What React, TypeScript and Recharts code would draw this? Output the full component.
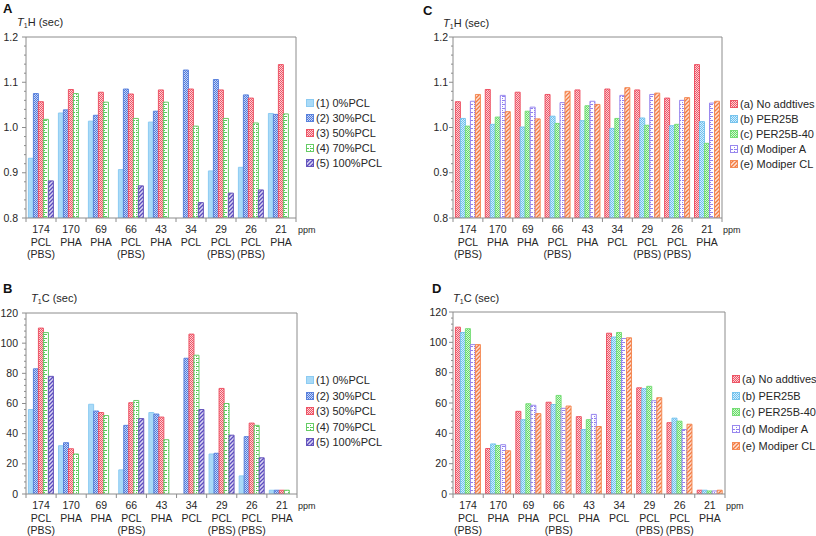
import React from 'react';
import { BarChart, Bar, XAxis, YAxis } from 'recharts';

const FONT = '"Liberation Sans", Arial, sans-serif';
const AXIS_GRAY = '#8c8c8c';
const TEXT = '#262626';

// carbon peaks (ppm) and what they belong to
const peaks = ['174', '170', '69', '66', '43', '34', '29', '26', '21'];
const peakGroups = [
  ['PCL', '(PBS)'], ['PHA'], ['PHA'], ['PCL', '(PBS)'], ['PHA'],
  ['PCL'], ['PCL', '(PBS)'], ['PCL', '(PBS)'], ['PHA'],
];

const blendNames = ['(1) 0%PCL', '(2) 30%PCL', '(3) 50%PCL', '(4) 70%PCL', '(5) 100%PCL'];
const additiveNames = ['(a) No addtives', '(b) PER25B', '(c) PER25B-40', '(d) Modiper A', '(e) Modiper CL'];

// A: T1H by PCL content
const hPcl0 = [0.932, 1.032, 1.014, 0.907, 1.012, null, 0.904, 0.912, 1.031];
const hPcl30 = [1.075, 1.039, 1.027, 1.085, 1.036, 1.127, 1.106, 1.072, 1.029];
const hPcl50 = [1.057, 1.084, 1.078, 1.074, 1.083, 1.085, 1.083, 1.065, 1.139];
const hPcl70 = [1.018, 1.075, 1.056, 1.020, 1.056, 1.003, 1.020, 1.010, 1.030];
const hPcl100 = [0.882, null, null, 0.871, null, 0.834, 0.855, 0.862, null];

// B: T1C by PCL content
const cPcl0 = [56, 32, 59.5, 16, 54, null, 26.5, 12, 2.5];
const cPcl30 = [83, 34, 55, 45.5, 53, 90, 27, 38, 2.5];
const cPcl50 = [110, 30, 54, 60.5, 51, 106, 70, 47, 2.5];
const cPcl70 = [107, 26.5, 52, 62, 36, 92, 60, 45.5, 2.5];
const cPcl100 = [78, null, null, 50, null, 56, 39, 24, null];

// C: T1H by additive
const hNone = [1.057, 1.084, 1.078, 1.073, 1.083, 1.085, 1.083, 1.065, 1.139];
const hPer25b = [1.020, 1.007, 1.001, 1.025, 1.015, 0.998, 1.021, 1.004, 1.013];
const hPer25b40 = [1.003, 1.023, 1.036, 1.009, 1.048, 1.020, 1.005, 1.007, 0.965];
const hModA = [1.058, 1.071, 1.045, 1.055, 1.058, 1.071, 1.073, 1.060, 1.054];
const hModCL = [1.073, 1.035, 1.019, 1.080, 1.051, 1.088, 1.076, 1.066, 1.058];

// D: T1C by additive
const cNone = [110, 30, 54.5, 60.5, 51, 106, 70, 47, 2.5];
const cPer25b = [106.5, 33, 49, 59, 42.5, 103.5, 69.5, 50, 2.5];
const cPer25b40 = [109, 32, 59.5, 65, 49, 106.5, 71, 48, 2];
const cModA = [98.5, 32.5, 58.5, 56.5, 52.5, 102.5, 61.5, 42.5, 2];
const cModCL = [98.5, 28.5, 53, 58, 44.5, 103, 63.5, 46, 2.5];

const toRows = (series: (number | null)[][]) =>
  peaks.map((name, i) => {
    const row: any = { name };
    series.forEach((s, k) => { row['s' + k] = s[i]; });
    return row;
  });

const blendStyles = [
  { fill: '#a9daf7', stroke: '#8ccbf2' },
  { fill: 'url(#chkBlue)', stroke: '#5a82dc' },
  { fill: 'url(#chkRed)', stroke: '#ee5566' },
  { fill: 'url(#dashGreen)', stroke: '#66cc66' },
  { fill: 'url(#diagPurple)', stroke: '#6655bb' },
];
const additiveStyles = [
  { fill: 'url(#chkRed)', stroke: '#ee5566' },
  { fill: 'url(#chkSky)', stroke: '#77c4ee' },
  { fill: 'url(#chkGreen)', stroke: '#77dd77' },
  { fill: 'url(#dashPurple)', stroke: '#9988ee' },
  { fill: 'url(#diagOrange)', stroke: '#f48a55' },
];

const Checker = ({ id, color, bg }: any) => (
  <pattern id={id} width={2} height={2} patternUnits="userSpaceOnUse">
    <rect width={2} height={2} fill={bg} />
    <rect width={1} height={1} fill={color} />
    <rect x={1} y={1} width={1} height={1} fill={color} />
  </pattern>
);

const Dashes = ({ id, color }: any) => (
  <pattern id={id} width={4} height={4} patternUnits="userSpaceOnUse">
    <rect width={4} height={4} fill="#fff" />
    <rect width={3} height={1} fill={color} />
    <rect y={2} width={1} height={1} fill={color} />
  </pattern>
);

const Diagonal = ({ id, color, bg }: any) => (
  <pattern id={id} width={4} height={4} patternUnits="userSpaceOnUse">
    <rect width={4} height={4} fill={bg} />
    <path d="M-1,1 l2,-2 M0,4 l4,-4 M3,5 l2,-2" stroke={color} strokeWidth={1.3} />
  </pattern>
);

const Patterns = () => (
  <svg width={0} height={0} style={{ position: 'absolute' }}>
    <defs>
      <Checker id="chkBlue" color="#4f78dc" bg="#c9d8f6" />
      <Checker id="chkRed" color="#ee5566" bg="#fbd0d6" />
      <Checker id="chkSky" color="#6cc0f0" bg="#d6eefb" />
      <Checker id="chkGreen" color="#66dd66" bg="#d4f6d4" />
      <Dashes id="dashGreen" color="#55cc55" />
      <Dashes id="dashPurple" color="#8f7ff0" />
      <Diagonal id="diagPurple" color="#5b4bc0" bg="#dcd8f2" />
      <Diagonal id="diagOrange" color="#f47a40" bg="#fde0d2" />
    </defs>
  </svg>
);

const PeakTick = ({ x, y, payload, band }: any) => {
  const idx = peaks.indexOf(String(payload.value));
  const lines = [String(payload.value), ...(peakGroups[idx] || [])];
  return (
    <g>
      <line x1={x - band / 2} x2={x - band / 2} y1={y} y2={y + 4} stroke={AXIS_GRAY} />
      {idx === peaks.length - 1 && (
        <line x1={x + band / 2} x2={x + band / 2} y1={y} y2={y + 4} stroke={AXIS_GRAY} />
      )}
      <text x={x} y={y + 15} textAnchor="middle" fontSize={10.5} fill={TEXT} fontFamily={FONT}>
        {lines.map((t, i) => (
          <tspan key={i} x={x} dy={i === 0 ? 0 : 12.5}>{t}</tspan>
        ))}
      </text>
    </g>
  );
};

// y tick; the top tick also draws the top and right edges of the plot frame
const ValueTick = ({ x, y, payload, isMajor, fmt, gap, topValue, plotW, plotH }: any) => {
  const v = payload.value;
  const major = isMajor(v);
  return (
    <g>
      <line x1={x - (major ? 4 : 2)} x2={x} y1={y} y2={y} stroke={AXIS_GRAY} />
      {v === topValue && (
        <path d={`M${x},${y}H${x + plotW}V${y + plotH}`} fill="none" stroke={AXIS_GRAY} />
      )}
      {major && (
        <text x={x - gap} y={y + 3.5} textAnchor="end" fontSize={10.5} fill={TEXT} fontFamily={FONT}>
          {fmt(v)}
        </text>
      )}
    </g>
  );
};

const hTicks = Array.from({ length: 21 }, (_, i) => +(0.8 + i * 0.02).toFixed(2));
const cTicks = Array.from({ length: 31 }, (_, i) => i * 4);
const hMajor = (v: number) => Math.round(v * 100) % 10 === 0;
const cMajor = (v: number) => v % 20 === 0;
const hFmt = (v: number) => v.toFixed(1);
const cFmt = (v: number) => String(v);

function Panel(props: any) {
  const { left, top, width, height, margin, yWidth, xHeight, data, styles, domain, ticks, isMajor, fmt, gap } = props;
  const plotW = width - margin.left - margin.right - yWidth;
  const plotH = height - margin.top - margin.bottom - xHeight;
  const band = plotW / peaks.length;
  return (
    <div style={{ position: 'absolute', left, top }}>
      <BarChart width={width} height={height} data={data} margin={margin} barGap={0} barCategoryGap="8%">
        <XAxis
          dataKey="name"
          height={xHeight}
          tickSize={0}
          tickMargin={0}
          interval={0}
          stroke={AXIS_GRAY}
          tick={(p: any) => <PeakTick {...p} band={band} />}
        />
        <YAxis
          width={yWidth}
          domain={domain}
          ticks={ticks}
          interval={0}
          tickSize={0}
          tickMargin={0}
          allowDataOverflow
          stroke={AXIS_GRAY}
          tick={(p: any) => (
            <ValueTick {...p} isMajor={isMajor} fmt={fmt} gap={gap} topValue={domain[1]} plotW={plotW} plotH={plotH} />
          )}
        />
        {styles.map((st: any, k: number) => (
          <Bar
            key={k}
            dataKey={'s' + k}
            fill={st.fill}
            stroke={st.stroke}
            strokeWidth={1}
            isAnimationActive={false}
          />
        ))}
      </BarChart>
    </div>
  );
}

function Legend({ names, styles, left, top, step }: any) {
  return (
    <div style={{ position: 'absolute', left, top, fontFamily: FONT, fontSize: 11, color: TEXT }}>
      {names.map((n: string, i: number) => (
        <div key={n} style={{ position: 'absolute', top: i * step, whiteSpace: 'nowrap', display: 'flex', alignItems: 'center' }}>
          <svg width={8} height={8} style={{ marginRight: 2 }}>
            <rect x={0.5} y={0.5} width={7} height={7} fill={styles[i].fill} stroke={styles[i].stroke} />
          </svg>
          <span style={{ lineHeight: '14px' }}>{n}</span>
        </div>
      ))}
    </div>
  );
}

const Tag = ({ text, left, top }: any) => (
  <div style={{ position: 'absolute', left, top, fontFamily: FONT, fontWeight: 'bold', fontSize: 13, color: '#111' }}>{text}</div>
);

const AxisTitle = ({ letter, left, top }: any) => (
  <div style={{ position: 'absolute', left, top, fontFamily: FONT, fontSize: 11, color: TEXT, whiteSpace: 'nowrap' }}>
    <i>T</i><span style={{ fontSize: 7, position: 'relative', top: 2 }}>1</span>{letter} (sec)
  </div>
);

const Ppm = ({ left, top }: any) => (
  <div style={{ position: 'absolute', left, top, fontFamily: FONT, fontSize: 9, color: TEXT }}>ppm</div>
);

export default function App() {
  const dataA = toRows([hPcl0, hPcl30, hPcl50, hPcl70, hPcl100]);
  const dataB = toRows([cPcl0, cPcl30, cPcl50, cPcl70, cPcl100]);
  const dataC = toRows([hNone, hPer25b, hPer25b40, hModA, hModCL]);
  const dataD = toRows([cNone, cPer25b, cPer25b40, cModA, cModCL]);

  return (
    <div style={{ position: 'absolute', left: 0, top: 0, width: 816, height: 536, background: '#fff', overflow: 'hidden', fontFamily: FONT }}>
      <Patterns />

      <Tag text="A" left={3} top={1} />
      <AxisTitle letter="H" left={17} top={16} />
      <Panel left={0} top={0} width={410} height={270} margin={{ top: 37, right: 114, left: 0, bottom: 0 }}
        yWidth={26} xHeight={52} data={dataA} styles={blendStyles} domain={[0.8, 1.2]} ticks={hTicks}
        isMajor={hMajor} fmt={hFmt} gap={8} />
      <Ppm left={298} top={225} />
      <Legend names={blendNames} styles={blendStyles} left={306} top={96} step={15} />

      <Tag text="C" left={423} top={3} />
      <AxisTitle letter="H" left={443} top={17} />
      <Panel left={410} top={0} width={406} height={270} margin={{ top: 37, right: 94, left: 0, bottom: 0 }}
        yWidth={43} xHeight={52} data={dataC} styles={additiveStyles} domain={[0.8, 1.2]} ticks={hTicks}
        isMajor={hMajor} fmt={hFmt} gap={5} />
      <Ppm left={723} top={225} />
      <Legend names={additiveNames} styles={additiveStyles} left={730} top={97} step={15} />

      <Tag text="B" left={3} top={281} />
      <AxisTitle letter="C" left={31} top={292} />
      <Panel left={0} top={270} width={410} height={266} margin={{ top: 43, right: 113, left: 0, bottom: 0 }}
        yWidth={26} xHeight={42} data={dataB} styles={blendStyles} domain={[0, 120]} ticks={cTicks}
        isMajor={cMajor} fmt={cFmt} gap={8} />
      <Ppm left={298} top={501} />
      <Legend names={blendNames} styles={blendStyles} left={306} top={373} step={15.5} />

      <Tag text="D" left={432} top={281} />
      <AxisTitle letter="C" left={453} top={292} />
      <Panel left={410} top={270} width={406} height={266} margin={{ top: 42, right: 91, left: 0, bottom: 0 }}
        yWidth={43} xHeight={42} data={dataD} styles={additiveStyles} domain={[0, 120]} ticks={cTicks}
        isMajor={cMajor} fmt={cFmt} gap={6} />
      <Ppm left={726} top={501} />
      <Legend names={additiveNames} styles={additiveStyles} left={732} top={372} step={16.7} />
    </div>
  );
}
